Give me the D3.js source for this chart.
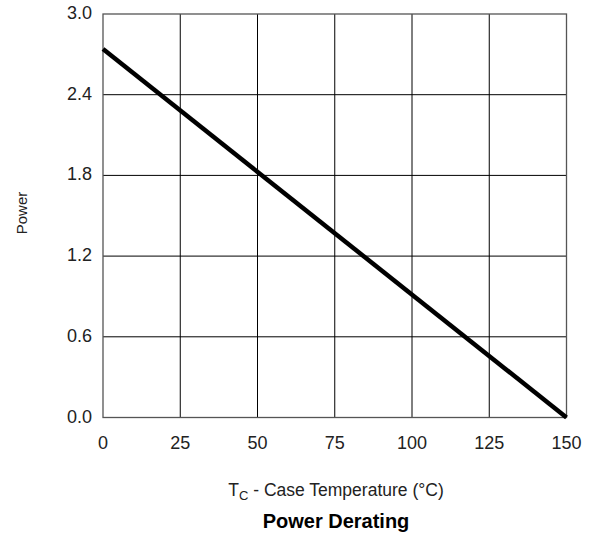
<!DOCTYPE html>
<html>
<head>
<meta charset="utf-8">
<title>Power Derating</title>
<script src="https://d3js.org/d3.v7.min.js"></script>
<style>
  body { margin: 0; background: #fff; }
  text { font-family: 'Liberation Sans', Arial, sans-serif; fill: #222; }
</style>
</head>
<body>
<svg id="chart" width="598" height="538"></svg>
<script>
// data
var xTicks = [0, 25, 50, 75, 100, 125, 150];
var yTicks = [0.0, 0.6, 1.2, 1.8, 2.4, 3.0];
var tempC = [0, 150];
var power = [2.74, 0];

var svg = d3.select("#chart");
var plotL = 103, plotR = 566.5, plotT = 14, plotB = 417.5;

var x = d3.scaleLinear().domain([0, 150]).range([plotL, plotR]);
var y = d3.scaleLinear().domain([0, 3]).range([plotB, plotT]);

// grid
svg.append("g").selectAll("line").data(xTicks.slice(1, -1)).join("line")
  .attr("x1", d => x(d)).attr("x2", d => x(d))
  .attr("y1", plotT).attr("y2", plotB)
  .attr("stroke", "#000").attr("stroke-width", 1);
svg.append("g").selectAll("line").data(yTicks.slice(1, -1)).join("line")
  .attr("x1", plotL).attr("x2", plotR)
  .attr("y1", d => y(d)).attr("y2", d => y(d))
  .attr("stroke", "#000").attr("stroke-width", 1);

// frame
svg.append("rect")
  .attr("x", plotL).attr("y", plotT)
  .attr("width", plotR - plotL).attr("height", plotB - plotT)
  .attr("fill", "none").attr("stroke", "#555").attr("stroke-width", 1.3);

// tick labels
svg.append("g").selectAll("text").data(yTicks).join("text")
  .attr("x", 92).attr("y", d => y(d) + 5)
  .attr("text-anchor", "end").attr("font-size", 18)
  .text(d => d.toFixed(1));
svg.append("g").selectAll("text").data(xTicks).join("text")
  .attr("x", d => x(d)).attr("y", 449)
  .attr("text-anchor", "middle").attr("font-size", 18)
  .text(d => d);

// derating line
var line = d3.line().x(d => x(d[0])).y(d => y(d[1]));
svg.append("path")
  .attr("d", line(d3.zip(tempC, power)))
  .attr("fill", "none").attr("stroke", "#000").attr("stroke-width", 4.5);

// axis titles
svg.append("text")
  .attr("transform", "translate(27,213) rotate(-90)")
  .attr("text-anchor", "middle").attr("font-size", 15)
  .text("Power");

var xt = svg.append("text")
  .attr("x", 336).attr("y", 496)
  .attr("text-anchor", "middle").attr("font-size", 17.5);
xt.append("tspan").text("T");
xt.append("tspan").attr("font-size", 13).attr("dy", 4).text("C");
xt.append("tspan").attr("dy", -4).text(" - Case Temperature (°C)");

svg.append("text")
  .attr("x", 336).attr("y", 528)
  .attr("text-anchor", "middle").attr("font-size", 20)
  .attr("font-weight", "bold").style("fill", "#000")
  .text("Power Derating");
</script>
</body>
</html>
